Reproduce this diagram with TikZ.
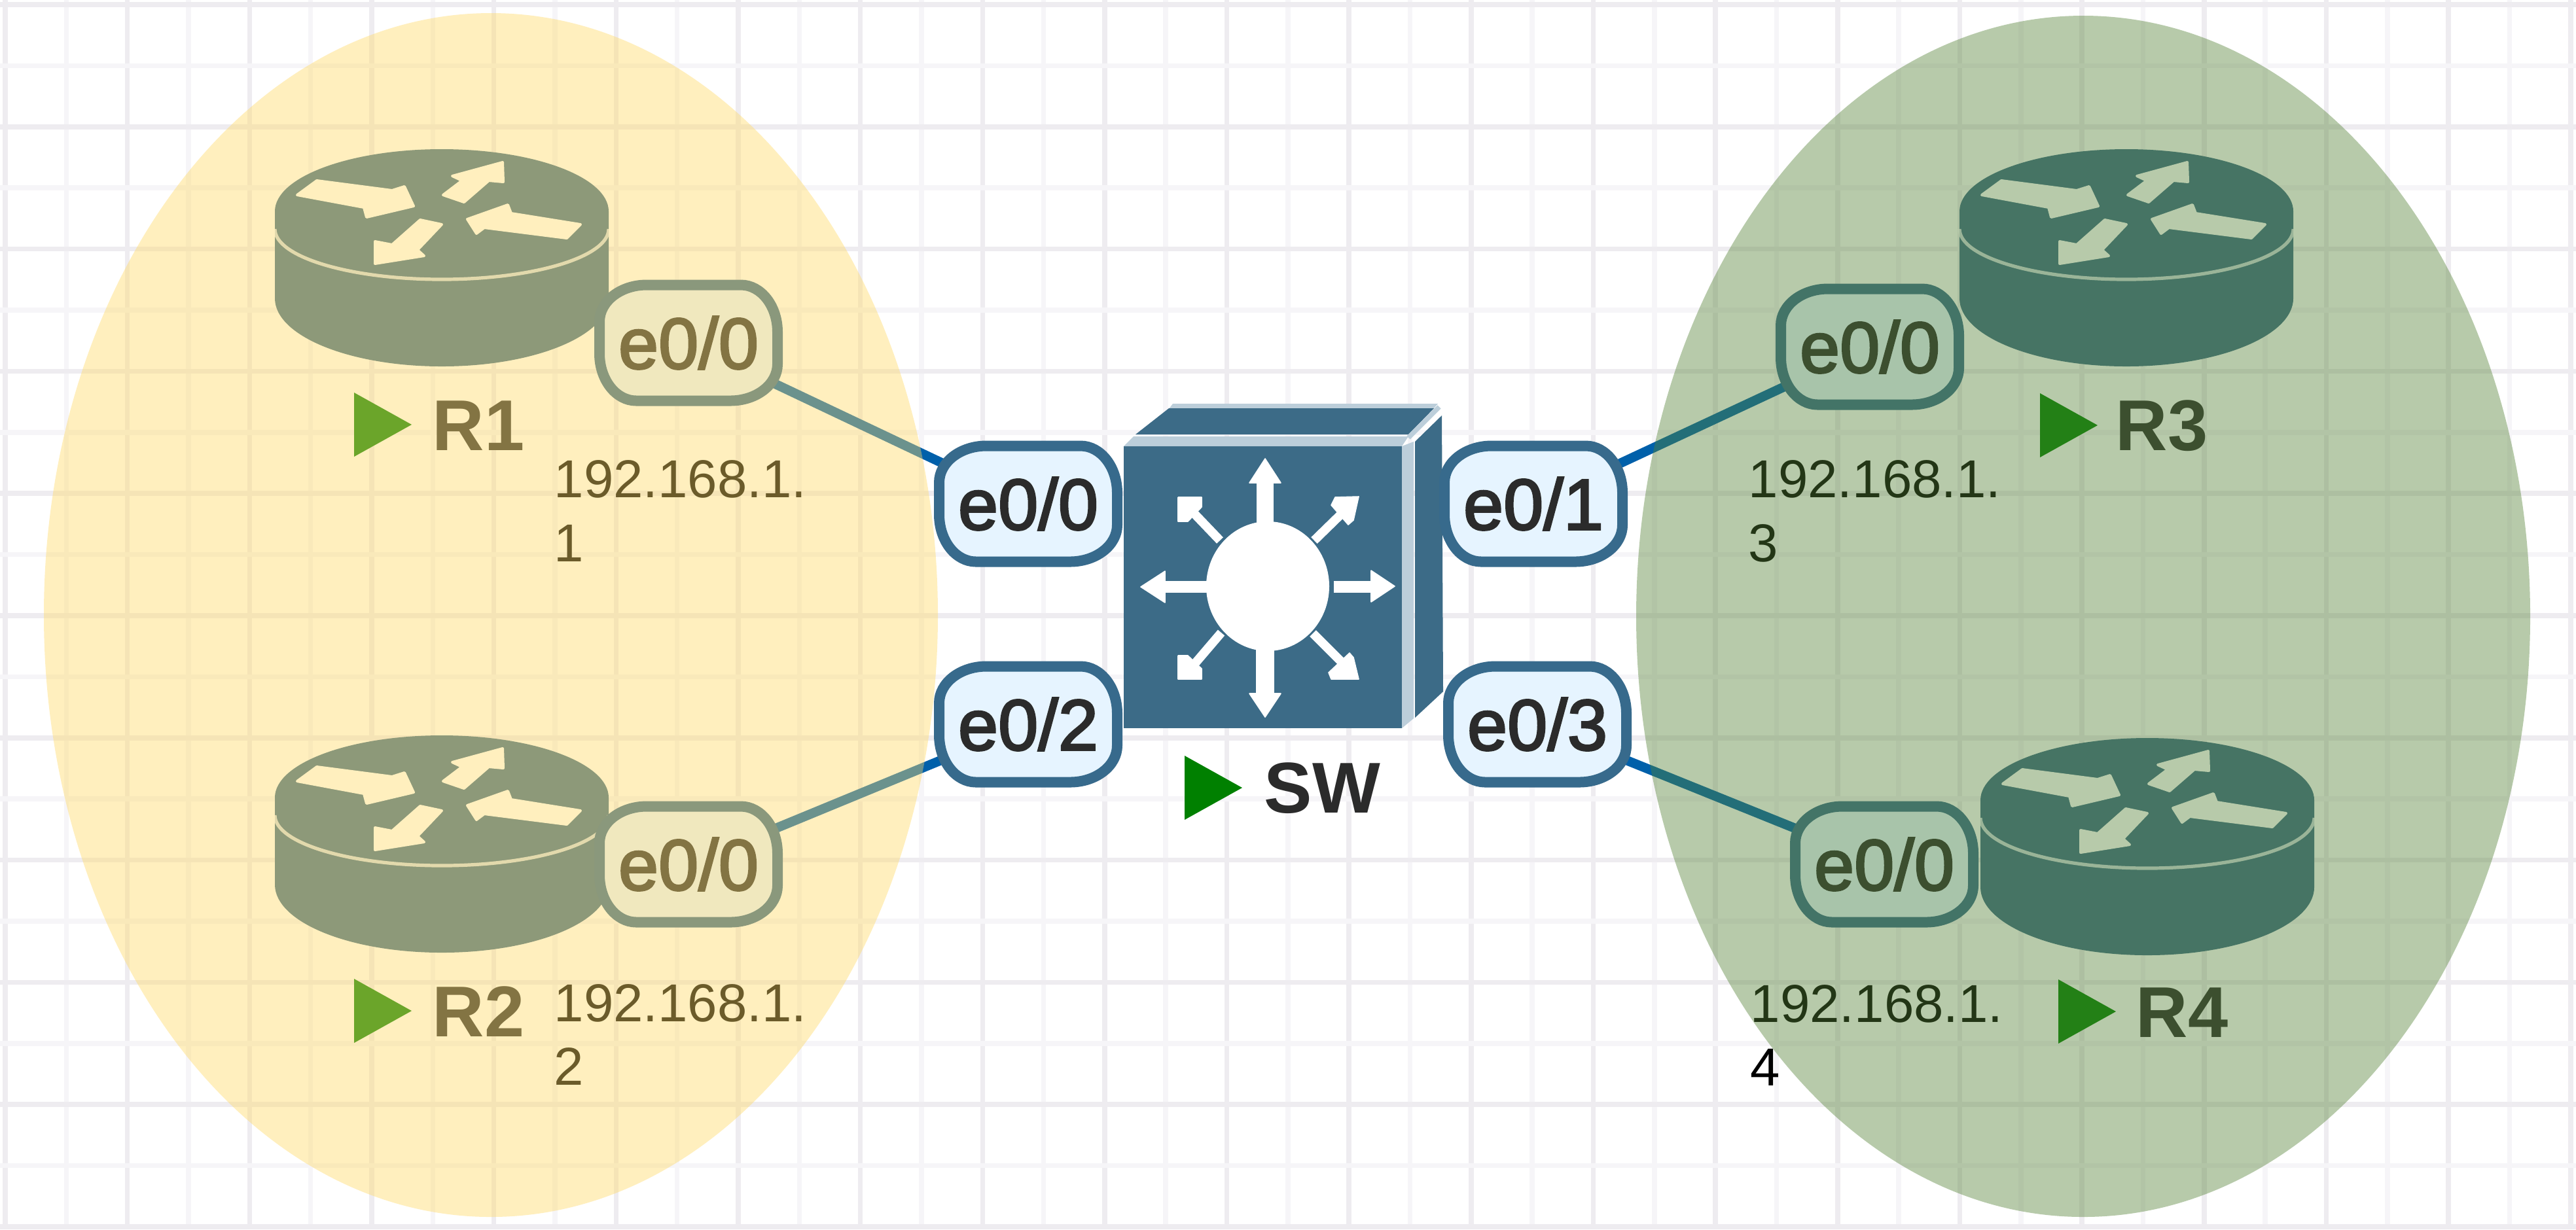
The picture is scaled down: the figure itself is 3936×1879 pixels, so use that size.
\documentclass[tikz,border=0pt]{standalone}
\usepackage{fontspec}
\setmainfont{Liberation Sans}
\newfontfamily\portfont[FakeBold=2.6]{Liberation Sans}
\newfontfamily\namefont{Liberation Sans Bold}
\usetikzlibrary{arrows.meta}
\pgfdeclarelayer{gridlayer}
\pgfdeclarelayer{linklayer}
\pgfdeclarelayer{toplayer}
\pgfsetlayers{gridlayer,linklayer,main,toplayer}
\definecolor{devblue}{HTML}{3C6B87}
\definecolor{devlight}{HTML}{BCCEDA}
\definecolor{portedge}{HTML}{376A8C}
\definecolor{portfill}{HTML}{E6F4FF}
\definecolor{linkblue}{HTML}{0060AA}
\definecolor{griddark}{HTML}{EEECF0}
\definecolor{gridlight}{HTML}{F6F5F8}
\definecolor{zoneyellow}{HTML}{FFD966}
\definecolor{zonegreen}{HTML}{548235}
\definecolor{labeltext}{HTML}{2B2B2B}
\definecolor{rungreen}{HTML}{008000}
\tikzset{
  elcorners/.code={\pgfsetcornersarced{\pgfpoint{18pt}{14pt}}},
  portnode/.style={draw=portedge,fill=portfill,line width=4pt,minimum width=68pt,minimum height=44.25pt,inner sep=0pt,elcorners,text=labeltext,font=\portfont\fontsize{27.5}{30}\selectfont},
  namenode/.style={anchor=base west,inner sep=0pt,text=labeltext,font=\namefont\fontsize{27.5}{30}\selectfont},
  ipnode/.style={anchor=base west,inner sep=0pt,text=black,font=\fontsize{20.4}{24.5}\selectfont},
  linkline/.style={draw=linkblue,line width=3.6pt},
  zone/.style={opacity=0.42},
  gridA/.style={griddark,line width=1.9pt},
  gridB/.style={gridlight,line width=1.9pt},
  glyphfill/.style={fill=white,draw=white,line width=1pt,line join=round},
  swshaft/.style={white,line width=#1},
  swhead/.style={fill=white,draw=white,line width=0.4pt,line join=round},
  runmark/.pic={\fill[rungreen] (0,-49) -- (88,0) -- (0,49) -- cycle;},
  router/.pic={
    \fill[devblue] (-255,0) arc[x radius=255,y radius=95,start angle=180,end angle=360]
      -- (255,133) arc[x radius=255,y radius=104,start angle=0,end angle=180] -- cycle;
    \draw[white,opacity=0.75,line width=1.3pt] (-255,27) arc[x radius=255,y radius=77,start angle=180,end angle=0];
    \path[glyphfill] (-191,-47) -- (-76,-32) -- (-57,-38) -- (-43,-8) -- (-115,9) -- (-119,-6) -- (-221,-25) -- cycle;
    \path[glyphfill] (2,-25) -- (31,-47) -- (16,-54) -- (93,-75) -- (94,-45) -- (72,-47) -- (34,-14) -- cycle;
    \path[glyphfill] (212,20) -- (106,3) -- (101,-10) -- (39,12) -- (53,34) -- (65,25) -- (191,41) -- cycle;
    \path[glyphfill] (-33,13) -- (0,20) -- (-37,59) -- (-27,68) -- (-102,80) -- (-102,46) -- (-76,51) -- cycle;
  }
}
\begin{document}
\begin{tikzpicture}[x=0.25pt,y=-0.25pt]
\useasboundingbox (0,0) rectangle (3936,1879);
\begin{pgfonlayer}{gridlayer}
  \fill[white] (0,0) rectangle (3936,1879);
  \foreach \i in {0,...,42}{
    \pgfmathsetmacro{\gx}{8+\i*93.33}
    \pgfmathtruncatemacro{\odd}{mod(\i,2)}
    \ifnum\odd=0 \draw[gridA] (\gx,0) -- (\gx,1879); \else \draw[gridB] (\gx,0) -- (\gx,1879); \fi
  }
  \foreach \i in {0,...,20}{
    \pgfmathsetmacro{\gy}{7+\i*93.4}
    \pgfmathtruncatemacro{\odd}{mod(\i,2)}
    \ifnum\odd=0 \draw[gridA] (0,\gy) -- (3936,\gy); \else \draw[gridB] (0,\gy) -- (3936,\gy); \fi
  }
\end{pgfonlayer}

% routers
\pic at (675,323) {router};
\pic at (675,1219) {router};
\pic at (3249,323) {router};
\pic at (3281,1223) {router};

% switch
\fill[devlight] (1792,617) -- (2197,617) -- (2190,625) -- (1786,625) -- cycle;
\fill[devblue] (1735,664) -- (1786,624) -- (2191,624) -- (2152,664) -- cycle;
\fill[devblue] (2162,675) -- (2203,635) -- (2205,1057) -- (2162,1097) -- cycle;
\fill[devblue] (1717,682) rectangle (2142,1113);
\fill[devlight] (1717,682) -- (1732,667) -- (2152,667) -- (2142,682) -- cycle;
\fill[devlight] (2142,682) -- (2160,675) -- (2160,1098) -- (2142,1113) -- cycle;
\draw[devlight,line width=1.8pt] (2152,669) -- (2199,622);
\fill[white] (1937,896) ellipse[x radius=94,y radius=99];
% up, down
\draw[swshaft=6.6pt] (1933,805) -- (1933,735);
\fill[swhead] (1933,701) -- (1957,738) -- (1909,738) -- cycle;
\draw[swshaft=7pt] (1933,985) -- (1933,1063);
\fill[swhead] (1933,1096) -- (1957,1060) -- (1909,1060) -- cycle;
% left, right
\draw[swshaft=4.5pt] (1850,897) -- (1778,897);
\fill[swhead] (1743,897) -- (1780,873) -- (1780,921) -- cycle;
\draw[swshaft=4.3pt] (2038,897) -- (2097,897);
\fill[swhead] (2131,896) -- (2095,872) -- (2095,920) -- cycle;
% diagonals
\draw[swshaft=3.4pt] (1864,826) -- (1820,780);
\fill[swhead] (1800,760) -- (1836,760) -- (1836,775) -- (1815,797) -- (1800,797) -- cycle;
\draw[swshaft=3.4pt] (2008,826) -- (2050,785);
\fill[swhead] (2076,759) -- (2040,760) -- (2034,772) -- (2060,802) -- (2068,795) -- cycle;
\draw[swshaft=3.4pt] (1866,967) -- (1825,1015);
\fill[swhead] (1800,1038) -- (1836,1038) -- (1836,1022) -- (1815,1002) -- (1800,1002) -- cycle;
\draw[swshaft=3.4pt] (2006,968) -- (2050,1012);
\fill[swhead] (2076,1038) -- (2034,1038) -- (2030,1028) -- (2062,998) -- (2068,1005) -- cycle;

% run markers
\pic at (541,649) {runmark};
\pic at (541,1545) {runmark};
\pic at (3117,650) {runmark};
\pic at (3145,1546) {runmark};
\pic at (1810,1204) {runmark};

% names
\node[namenode] (nR1) at (660,688) {R1};
\node[namenode] (nR2) at (660,1584) {R2};
\node[namenode] (nR3) at (3232,688) {R3};
\node[namenode] (nR4) at (3263,1585) {R4};
\node[namenode] (nSW) at (1931,1242) {SW};

% addresses
\node[ipnode] (ip1a) at (846,760) {192.168.1.};
\node[ipnode] (ip1b) at (846,858) {1};
\node[ipnode] (ip2a) at (846,1561) {192.168.1.};
\node[ipnode] (ip2b) at (846,1658) {2};
\node[ipnode] (ip3a) at (2671,760) {192.168.1.};
\node[ipnode] (ip3b) at (2671,858) {3};
\node[ipnode] (ip4a) at (2674,1562) {192.168.1.};
\node[ipnode] (ip4b) at (2674,1659) {4};

% ports
\node[portnode] (r1p) at (1052,524) {e0/0};
\node[portnode] (r2p) at (1052,1321) {e0/0};
\node[portnode] (r3p) at (2857,530) {e0/0};
\node[portnode] (r4p) at (2879,1321) {e0/0};
\node[portnode] (swa) at (1571,770) {e0/0};
\node[portnode] (swb) at (1571,1107) {e0/2};
\node[portnode] (swc) at (2343,770) {e0/1};
\node[portnode] (swd) at (2349,1107) {e0/3};

% links
\begin{pgfonlayer}{linklayer}
  \draw[linkline] (r1p.center) -- (swa.center);
  \draw[linkline] (r2p.center) -- (swb.center);
  \draw[linkline] (r3p.center) -- (swc.center);
  \draw[linkline] (r4p.center) -- (swd.center);
\end{pgfonlayer}

% zones
\begin{pgfonlayer}{toplayer}
  \fill[zoneyellow,zone] (750,940) ellipse[x radius=683,y radius=920];
  \fill[zonegreen,zone] (3183,942) ellipse[x radius=683,y radius=918];
\end{pgfonlayer}
\end{tikzpicture}
\end{document}
